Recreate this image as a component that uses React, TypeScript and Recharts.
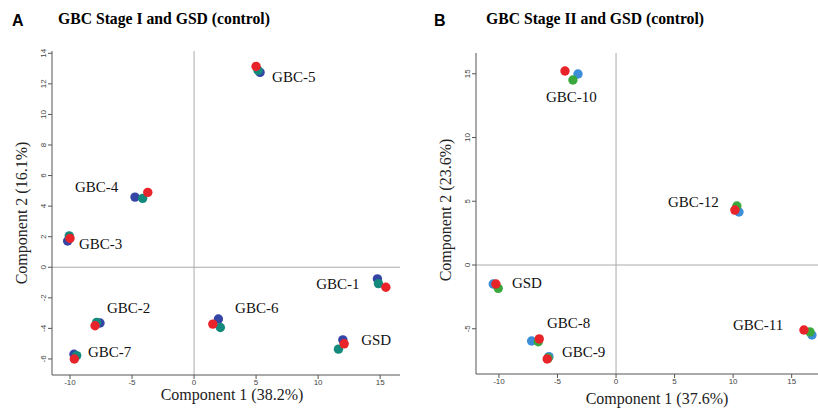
import { ReferenceLine, Scatter, ScatterChart, XAxis, YAxis } from 'recharts'

const xTicks = [-10, -5, 0, 5, 10, 15]
const aYTicks = [-6, -4, -2, 0, 2, 4, 6, 8, 10, 12, 14]
const bYTicks = [-5, 0, 5, 10, 15]

// Panel A: GBC stage I and GSD, three replicates per sample
const aBlue = [
  { x: 5.32, y: 12.75 }, { x: -4.76, y: 4.59 }, { x: -10.19, y: 1.72 }, { x: -7.58, y: -3.65 },
  { x: -9.68, y: -5.69 }, { x: 1.96, y: -3.39 }, { x: 14.78, y: -0.76 }, { x: 11.99, y: -4.75 },
]
const aTeal = [
  { x: 5.16, y: 12.88 }, { x: -4.14, y: 4.51 }, { x: -10.06, y: 2.05 }, { x: -7.85, y: -3.61 },
  { x: -9.46, y: -5.78 }, { x: 2.12, y: -3.94 }, { x: 14.86, y: -1.07 }, { x: 11.64, y: -5.36 },
]
const aRed = [
  { x: 5.0, y: 13.14 }, { x: -3.73, y: 4.9 }, { x: -10.0, y: 1.89 }, { x: -7.98, y: -3.83 },
  { x: -9.65, y: -6.0 }, { x: 1.51, y: -3.72 }, { x: 15.46, y: -1.31 }, { x: 12.1, y: -5.01 },
]
const aLabels = [
  { x: 6.29, y: 12.42, name: 'GBC-5' }, { x: -9.6, y: 5.25, name: 'GBC-4' },
  { x: -9.27, y: 1.5, name: 'GBC-3' }, { x: -7.02, y: -2.64, name: 'GBC-2' },
  { x: 3.31, y: -2.64, name: 'GBC-6' }, { x: 9.84, y: -1.07, name: 'GBC-1' },
  { x: 13.47, y: -4.75, name: 'GSD' }, { x: -8.55, y: -5.54, name: 'GBC-7' },
]

// Panel B: GBC stage II and GSD
const bBlue = [
  { x: -3.25, y: 14.98 }, { x: 10.5, y: 4.16 }, { x: 16.73, y: -5.49 },
  { x: -10.49, y: -1.49 }, { x: -7.21, y: -5.96 }, { x: -5.73, y: -7.19 },
]
const bGreen = [
  { x: -3.68, y: 14.51 }, { x: 10.32, y: 4.63 }, { x: 16.56, y: -5.25 },
  { x: -10.06, y: -1.83 }, { x: -6.64, y: -6.02 }, { x: -5.8, y: -7.3 },
]
const bRed = [
  { x: -4.36, y: 15.22 }, { x: 10.15, y: 4.31 }, { x: 16.05, y: -5.1 },
  { x: -10.26, y: -1.49 }, { x: -6.56, y: -5.8 }, { x: -5.88, y: -7.37 },
]
const bLabels = [
  { x: -5.99, y: 13.18, name: 'GBC-10' }, { x: 4.43, y: 4.94, name: 'GBC-12' },
  { x: 9.98, y: -4.71, name: 'GBC-11' }, { x: -8.89, y: -1.41, name: 'GSD' },
  { x: -5.9, y: -4.55, name: 'GBC-8' }, { x: -4.62, y: -6.82, name: 'GBC-9' },
]

const serif = '"Liberation Serif", "Times New Roman", serif'
const sans = '"Liberation Sans", Arial, sans-serif'

const dot = (fill: string) => (p: any) => <circle cx={p.cx} cy={p.cy} r={4.7} fill={fill} />

const label = (p: any) => (
  <text x={p.cx} y={p.cy} dominantBaseline="central" fontFamily={serif} fontSize={15} fill="#111">
    {p.payload?.name ?? p.name}
  </text>
)

const xTick = (p: any) => (
  <text x={p.x} y={p.y + 4} textAnchor="middle" fontFamily={sans} fontSize={8} fill="#444">
    {p.payload.value}
  </text>
)

const yTick = (p: any) => (
  <text
    x={p.x}
    y={p.y}
    transform={`rotate(-90 ${p.x} ${p.y})`}
    textAnchor="middle"
    fontFamily={sans}
    fontSize={8}
    fill="#444"
  >
    {p.payload.value}
  </text>
)

type PanelProps = {
  left: number
  width: number
  margin: { top: number; right: number; bottom: number; left: number }
  xDomain: [number, number]
  yDomain: [number, number]
  yTicks: number[]
  series: { data: { x: number; y: number }[]; fill: string }[]
  labels: { x: number; y: number; name: string }[]
}

function Panel({ left, width, margin, xDomain, yDomain, yTicks, series, labels }: PanelProps) {
  return (
    <div style={{ position: 'absolute', left, top: 0 }}>
      <ScatterChart width={width} height={410} margin={margin}>
        <XAxis
          type="number"
          dataKey="x"
          domain={xDomain}
          ticks={xTicks}
          allowDataOverflow
          height={20}
          tickSize={4}
          tick={xTick}
          axisLine={{ stroke: '#555' }}
          tickLine={{ stroke: '#555' }}
        />
        <YAxis
          type="number"
          dataKey="y"
          domain={yDomain}
          ticks={yTicks}
          allowDataOverflow
          width={30}
          tickSize={4}
          tickMargin={2}
          tick={yTick}
          axisLine={{ stroke: '#555' }}
          tickLine={{ stroke: '#555' }}
        />
        <ReferenceLine x={0} stroke="#aaa" />
        <ReferenceLine y={0} stroke="#aaa" />
        {series.map((s, i) => (
          <Scatter key={i} data={s.data} shape={dot(s.fill)} isAnimationActive={false} />
        ))}
        <Scatter data={labels} shape={label} isAnimationActive={false} />
      </ScatterChart>
    </div>
  )
}

const textBase = { position: 'absolute' as const, whiteSpace: 'nowrap' as const, lineHeight: 1 }

export default function App() {
  return (
    <div style={{ position: 'absolute', left: 0, top: 0, width: 818, height: 410, background: '#fff', overflow: 'hidden' }}>
      <Panel
        left={0}
        width={410}
        margin={{ top: 51, right: 10, bottom: 15, left: 22 }}
        xDomain={[-11.45, 16.6]}
        yDomain={[-7.05, 14.15]}
        yTicks={aYTicks}
        series={[
          { data: aBlue, fill: '#3445a6' },
          { data: aTeal, fill: '#138a7c' },
          { data: aRed, fill: '#e8232a' },
        ]}
        labels={aLabels}
      />
      <Panel
        left={410}
        width={408}
        margin={{ top: 53, right: 0, bottom: 16, left: 36 }}
        xDomain={[-11.96, 17.25]}
        yDomain={[-8.55, 16.63]}
        yTicks={bYTicks}
        series={[
          { data: bBlue, fill: '#3d8ed8' },
          { data: bGreen, fill: '#3aa83c' },
          { data: bRed, fill: '#e8232a' },
        ]}
        labels={bLabels}
      />

      <div style={{ ...textBase, left: 12, top: 13, fontFamily: sans, fontWeight: 700, fontSize: 16 }}>A</div>
      <div style={{ ...textBase, left: 58, top: 11, fontFamily: serif, fontWeight: 700, fontSize: 15.7 }}>
        GBC Stage I and GSD (control)
      </div>
      <div style={{ ...textBase, left: 434, top: 13, fontFamily: sans, fontWeight: 700, fontSize: 16 }}>B</div>
      <div style={{ ...textBase, left: 486, top: 11, fontFamily: serif, fontWeight: 700, fontSize: 15.7 }}>
        GBC Stage II and GSD (control)
      </div>

      <div style={{ ...textBase, left: 232, top: 395, transform: 'translate(-50%, -50%)', fontFamily: serif, fontSize: 16, color: '#222' }}>
        Component 1 (38.2%)
      </div>
      <div style={{ ...textBase, left: 657, top: 399, transform: 'translate(-50%, -50%)', fontFamily: serif, fontSize: 16, color: '#222' }}>
        Component 1 (37.6%)
      </div>
      <div style={{ ...textBase, left: 22, top: 213, transform: 'translate(-50%, -50%) rotate(-90deg)', fontFamily: serif, fontSize: 16, color: '#222' }}>
        Component 2 (16.1%)
      </div>
      <div style={{ ...textBase, left: 446, top: 210, transform: 'translate(-50%, -50%) rotate(-90deg)', fontFamily: serif, fontSize: 16, color: '#222' }}>
        Component 2 (23.6%)
      </div>
    </div>
  )
}
